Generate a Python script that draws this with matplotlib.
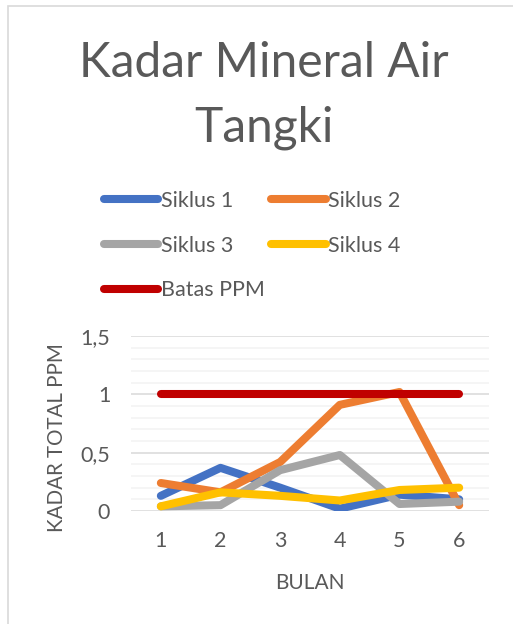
import matplotlib.pyplot as plt
from matplotlib.patches import Rectangle
from matplotlib.ticker import MultipleLocator, FixedLocator, FixedFormatter

# data
bulan = [1, 2, 3, 4, 5, 6]
siklus1 = [0.13, 0.37, 0.20, 0.02, 0.14, 0.10]
siklus2 = [0.24, 0.16, 0.42, 0.91, 1.02, 0.05]
siklus3 = [0.04, 0.05, 0.35, 0.48, 0.06, 0.08]
siklus4 = [0.04, 0.16, 0.13, 0.09, 0.18, 0.20]
batas_ppm = [1, 1, 1, 1, 1, 1]

series = [
    ('Siklus 1', siklus1, '#4472c4'),
    ('Siklus 2', siklus2, '#ed7d31'),
    ('Siklus 3', siklus3, '#a5a5a5'),
    ('Siklus 4', siklus4, '#ffc000'),
    ('Batas PPM', batas_ppm, '#c00000'),
]

plt.rcParams['font.family'] = ['Lato', 'DejaVu Sans']
teks = '#595959'

fig = plt.figure(figsize=(5.13, 6.24), dpi=100)
ax = fig.add_axes([0.2554, 0.1811, 0.6978, 0.2804])

lines = {}
for nama, nilai, warna in series:
    ln, = ax.plot(bulan, nilai, color=warna, linewidth=5.8,
                  solid_capstyle='round', solid_joinstyle='round', label=nama)
    lines[nama] = ln

ax.set_xlim(0.5, 6.5)
ax.set_ylim(0, 1.5)
ax.set_xticks(bulan)
ax.yaxis.set_major_locator(FixedLocator([0, 0.5, 1, 1.5]))
ax.yaxis.set_major_formatter(FixedFormatter(['0', '0,5', '1', '1,5']))
ax.yaxis.set_minor_locator(MultipleLocator(0.1))
ax.grid(True, which='major', axis='y', color='#d9d9d9', linewidth=1.1)
ax.grid(True, which='minor', axis='y', color='#f2f2f2', linewidth=1.1)
ax.set_axisbelow(True)
for s in ax.spines.values():
    s.set_visible(False)
ax.tick_params(which='both', length=0, labelsize=15.5, labelcolor=teks)
ax.tick_params(axis='x', pad=14.5)
ax.tick_params(axis='y', pad=15)

ax.set_xlabel('BULAN', fontsize=15, color=teks, labelpad=16)
ax.set_ylabel('KADAR TOTAL PPM', fontsize=14.8, color=teks)
ax.yaxis.set_label_coords(-0.178, 0.42)

# judul dua baris, baseline diatur terpisah
fig.text(0.515, 1 - 77 / 624, 'Kadar Mineral Air', ha='center', va='baseline',
         fontsize=34.5, color=teks)
fig.text(0.515, 1 - 142 / 624, 'Tangki', ha='center', va='baseline',
         fontsize=34.5, color=teks)

urutan = ['Siklus 1', 'Siklus 3', 'Batas PPM', 'Siklus 2', 'Siklus 4']
fig.legend([lines[n] for n in urutan], urutan, ncol=2, frameon=False,
           loc='upper left', bbox_to_anchor=(0.185, 0.708),
           fontsize=15.5, labelcolor=teks, handlelength=2.55, handletextpad=0.1,
           columnspacing=0.3, labelspacing=1.15, borderaxespad=0)

fig.patches.append(Rectangle((8 / 513, -0.1), 2, 1 - 6 / 624 + 0.1,
                             transform=fig.transFigure, fill=False,
                             edgecolor='#d9d9d9', linewidth=1.2))

fig.savefig('out.png', dpi=100)
